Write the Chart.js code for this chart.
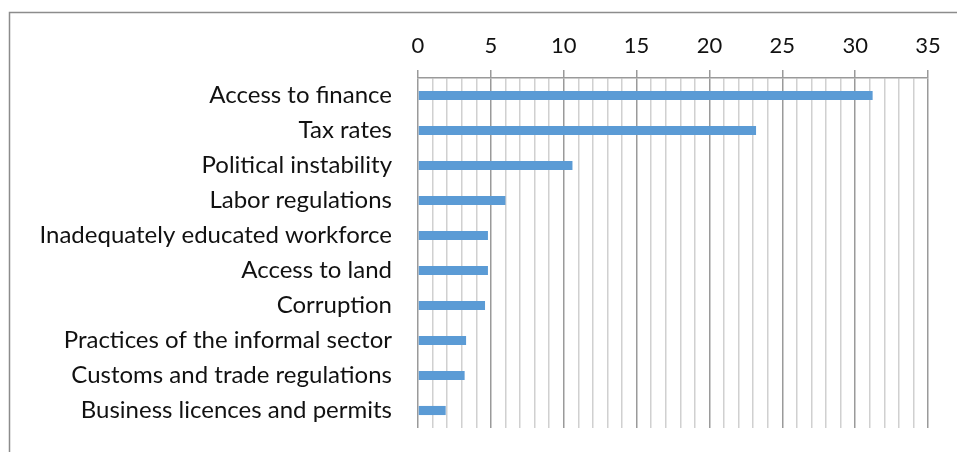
<!DOCTYPE html>
<html>
<head>
<meta charset="utf-8">
<script src="https://cdn.jsdelivr.net/npm/chart.js@4"></script>
<style>
  body { margin: 0; background: #fff; }
  #wrap { width: 957px; height: 452px; position: relative; }
</style>
</head>
<body>
<div id="wrap"><canvas id="myChart"></canvas></div>
<script>
const categories = [
  'Access to finance',
  'Tax rates',
  'Political instability',
  'Labor regulations',
  'Inadequately educated workforce',
  'Access to land',
  'Corruption',
  'Practices of the informal sector',
  'Customs and trade regulations',
  'Business licences and permits'
];
const values = [31.2, 23.2, 10.6, 6.0, 4.8, 4.8, 4.6, 3.3, 3.2, 1.9];
const xMin = 0, xMax = 35, xStep = 1, labelEvery = 5;

// grey frame on left and top, like the original chart box
const frame = {
  id: 'frame',
  beforeDraw(chart) {
    const c = chart.ctx;
    c.save();
    c.strokeStyle = '#8c8c8c';
    c.lineWidth = 1.5;
    c.beginPath();
    c.moveTo(9.5, 452);
    c.lineTo(9.5, 12.5);
    c.lineTo(957, 12.5);
    c.stroke();
    c.restore();
  }
};

const ctx = document.getElementById('myChart');
new Chart(ctx, {
  type: 'bar',
  data: {
    labels: categories,
    datasets: [{
      data: values,
      backgroundColor: '#5B9BD5',
      barPercentage: 0.26,
      categoryPercentage: 1
    }]
  },
  options: {
    indexAxis: 'y',
    responsive: true,
    maintainAspectRatio: false,
    animation: false,
    layout: { padding: { left: 0, right: 29, top: 0, bottom: 24 } },
    plugins: { legend: { display: false }, tooltip: { enabled: false } },
    scales: {
      x: {
        position: 'top',
        min: xMin,
        max: xMax,
        afterFit(scale) { scale.height = 78; },
        ticks: {
          stepSize: xStep,
          autoSkip: false,
          maxRotation: 0,
          padding: 11,
          color: '#111',
          font: { family: 'Lato', size: 22 },
          callback: v => (v % labelEvery === 0 ? v : '')
        },
        grid: {
          color: c => (c.tick && c.tick.value % labelEvery === 0 ? '#9a9a9a' : '#d0d0d0'),
          tickColor: c => (c.tick && c.tick.value % labelEvery === 0 ? '#9a9a9a' : 'rgba(0,0,0,0)'),
          tickLength: 8,
          lineWidth: 1.5
        },
        border: { display: true, color: '#9a9a9a', width: 1.5 }
      },
      y: {
        afterFit(scale) {
          scale.width = 418;
          scale.paddingTop = 0;
          scale.paddingBottom = 0;
        },
        grid: { display: false, drawTicks: false },
        border: { display: false },
        ticks: {
          padding: 26,
          color: '#111',
          font: { family: 'Lato', size: 24 }
        }
      }
    }
  },
  plugins: [frame]
});
</script>
</body>
</html>
